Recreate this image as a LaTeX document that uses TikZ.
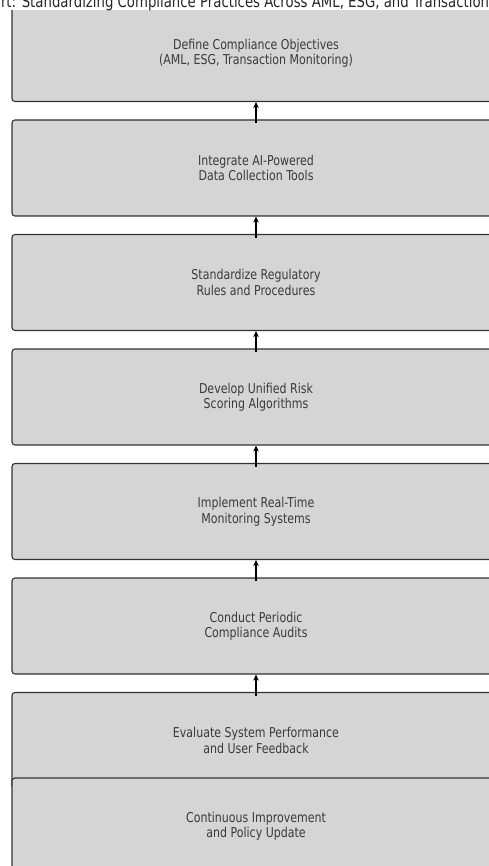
\documentclass[tikz,border=0pt]{standalone}
\usepackage{fontspec}
\setmainfont[FakeStretch=0.81]{DejaVu Sans}
\usetikzlibrary{arrows.meta}
\definecolor{boxfill}{HTML}{D5D5D5}
\definecolor{boxline}{HTML}{333333}
\definecolor{txt}{HTML}{3A3A3A}
\tikzset{
  stepbox/.style={draw=boxline, line width=1.1pt, fill=boxfill, rounded corners=3pt,
    minimum width=488pt, minimum height=96pt, inner sep=0pt, align=center,
    text=txt, font=\fontsize{13.6}{15.5}\selectfont},
  arr/.style={line width=1.5pt, -{Stealth[length=6pt,width=5.5pt]}, black},
}
\begin{document}
\begin{tikzpicture}[x=1pt,y=-1pt]
\useasboundingbox (0,0) rectangle (489,866);
\clip (0,0) rectangle (489,866);
\node[stepbox] (b1) at (256,53.5) {Define Compliance Objectives\\(AML, ESG, Transaction Monitoring)};
\node[stepbox] (b2) at (256,168) {Integrate AI-Powered\\Data Collection Tools};
\node[stepbox] (b3) at (256,282.5) {Standardize Regulatory\\Rules and Procedures};
\node[stepbox] (b4) at (256,397) {Develop Unified Risk\\Scoring Algorithms};
\node[stepbox] (b5) at (256,511.5) {Implement Real-Time\\Monitoring Systems};
\node[stepbox] (b6) at (256,626) {Conduct Periodic\\Compliance Audits};
\node[stepbox] (b7) at (256,740.5) {Evaluate System Performance\\and User Feedback};
\node[stepbox] (b8) at (256,826) {Continuous Improvement\\and Policy Update};
\draw[arr] ([yshift=-4pt]b2.north) -- (b1.south);
\draw[arr] ([yshift=-4pt]b3.north) -- (b2.south);
\draw[arr] ([yshift=-4pt]b4.north) -- (b3.south);
\draw[arr] ([yshift=-4pt]b5.north) -- (b4.south);
\draw[arr] ([yshift=-4pt]b6.north) -- (b5.south);
\draw[arr] ([yshift=-4pt]b7.north) -- (b6.south);
\fill[white] (0,0) rectangle (489,10);
\node[anchor=base, inner sep=0pt, text=black!85, font=\fontsize{16.4}{18}\selectfont] (title) at (245,8)
  {rt: Standardizing Compliance Practices Across AML, ESG, and Transaction};
\end{tikzpicture}
\end{document}
